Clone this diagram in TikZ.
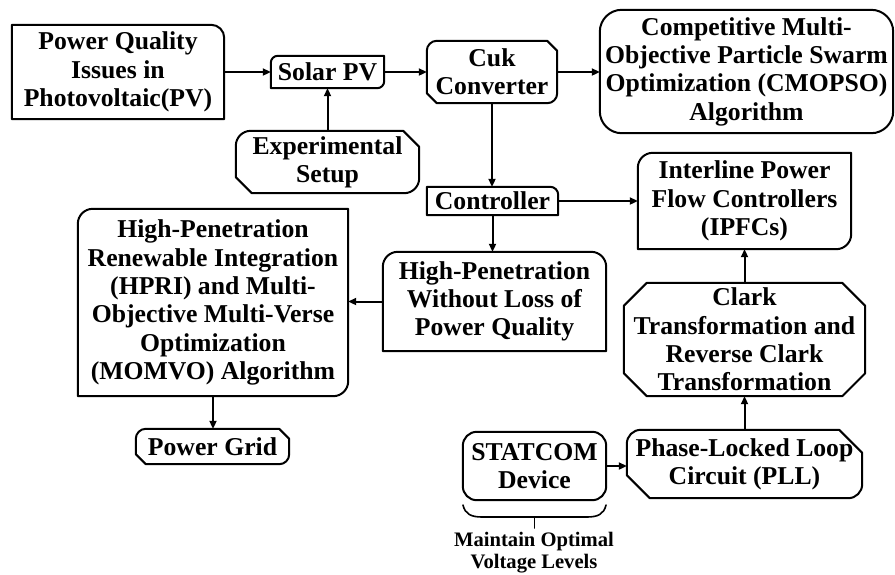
\documentclass[tikz,border=0pt]{standalone}
\usepackage{fontspec}
\setmainfont{Liberation Serif}
\usetikzlibrary{arrows.meta}

\tikzset{
  lbl/.style={inner sep=0pt, align=center, draw=none,
    font=\bfseries\fontsize{25.7}{28.3}\selectfont},
  note/.style={inner sep=0pt, align=center,
    font=\bfseries\fontsize{20.6}{21.7}\selectfont},
  boxline/.style={line width=2pt, line join=round},
  link/.style={line width=2pt, -{Triangle[length=8pt,width=7pt]}},
  bracket/.style={line width=1.6pt, line cap=round},
}

% Corner pieces, walked clockwise from the middle of the left side.
% s = square, r = rounded (radius \br), c = chamfered (cut \bc)
\def\TLs{-- (\bn.north west)}
\def\TLr{-- ([yshift=-\br]\bn.north west) arc[start angle=180,end angle=90,radius=\br]}
\def\TLc{-- ([yshift=-\bc]\bn.north west) -- ([xshift=\bc]\bn.north west)}
\def\TRs{-- (\bn.north east)}
\def\TRr{-- ([xshift=-\br]\bn.north east) arc[start angle=90,end angle=0,radius=\br]}
\def\TRc{-- ([xshift=-\bc]\bn.north east) -- ([yshift=-\bc]\bn.north east)}
\def\BRs{-- (\bn.south east)}
\def\BRr{-- ([yshift=\br]\bn.south east) arc[start angle=0,end angle=-90,radius=\br]}
\def\BRc{-- ([yshift=\bc]\bn.south east) -- ([xshift=-\bc]\bn.south east)}
\def\BLs{-- (\bn.south west)}
\def\BLr{-- ([xshift=\br]\bn.south west) arc[start angle=270,end angle=180,radius=\br]}
\def\BLc{-- ([xshift=\bc]\bn.south west) -- ([yshift=\bc]\bn.south west)}

% #1 node, #2 radius, #3 chamfer, #4..#7 corners TL TR BR BL
\newcommand\boxoutline[7]{%
  \def\bn{#1}\def\br{#2}\def\bc{#3}%
  \draw[boxline] (#1.west) #4 #5 #6 #7 -- cycle;%
}

\begin{document}
\begin{tikzpicture}[x=1pt, y=-1pt]
\useasboundingbox (0,0) rectangle (895,574);

% ---- blocks ----
\node[lbl, minimum width=212pt, minimum height=94pt] (pq) at (118,72)
  {Power Quality\\Issues in\\Photovoltaic(PV)};
\node[lbl, minimum width=113pt, minimum height=32pt] (solar) at (327.5,72)
  {Solar PV};
\node[lbl, minimum width=183pt, minimum height=62pt] (exp) at (327.5,162)
  {Experimental\\Setup};
\node[lbl, minimum width=130pt, minimum height=62pt] (cuk) at (492,72)
  {Cuk\\Converter};
\node[lbl, minimum width=293pt, minimum height=123pt] (cmopso) at (746.5,71.5)
  {Competitive Multi-\\Objective Particle Swarm\\Optimization (CMOPSO)\\Algorithm};
\node[lbl, minimum width=131pt, minimum height=28pt] (ctrl) at (492.5,201)
  {Controller};
\node[lbl, minimum width=213pt, minimum height=96pt] (ipfc) at (744.5,201)
  {Interline Power\\Flow Controllers\\(IPFCs)};
\node[lbl, minimum width=223pt, minimum height=99pt] (hpw) at (494.5,301.5)
  {High-Penetration\\Without Loss of\\Power Quality};
\node[lbl, minimum width=270pt, minimum height=187pt] (hpri) at (213,302.5)
  {High-Penetration\\Renewable Integration\\(HPRI) and Multi-\\Objective Multi-Verse\\Optimization\\(MOMVO) Algorithm};
\node[lbl, minimum width=153pt, minimum height=35pt] (grid) at (212.5,446.5)
  {Power Grid};
\node[lbl, minimum width=241pt, minimum height=113pt] (clark) at (744.5,339.5)
  {Clark\\Transformation and\\Reverse Clark\\Transformation};
\node[lbl, minimum width=143pt, minimum height=68pt] (statcom) at (534.5,466)
  {STATCOM\\Device};
\node[lbl, minimum width=235pt, minimum height=68pt] (pll) at (744.5,464)
  {Phase-Locked Loop\\Circuit (PLL)};

% ---- outlines ----
\boxoutline{pq}{13pt}{0pt}{\TLs}{\TRr}{\BRs}{\BLs}
\boxoutline{solar}{7pt}{0pt}{\TLr}{\TRs}{\BRr}{\BLs}
\boxoutline{exp}{15pt}{16pt}{\TLr}{\TRc}{\BRr}{\BLc}
\boxoutline{cuk}{10pt}{10pt}{\TLr}{\TRc}{\BRr}{\BLc}
\boxoutline{cmopso}{22pt}{0pt}{\TLr}{\TRr}{\BRr}{\BLr}
\boxoutline{ctrl}{8pt}{0pt}{\TLs}{\TRr}{\BRs}{\BLs}
\boxoutline{ipfc}{15pt}{0pt}{\TLr}{\TRs}{\BRr}{\BLs}
\boxoutline{hpw}{15pt}{0pt}{\TLr}{\TRr}{\BRs}{\BLs}
\boxoutline{hpri}{15pt}{0pt}{\TLr}{\TRs}{\BRr}{\BLs}
\boxoutline{grid}{10pt}{10pt}{\TLr}{\TRc}{\BRr}{\BLc}
\boxoutline{clark}{0pt}{23pt}{\TLc}{\TRc}{\BRc}{\BLc}
\boxoutline{statcom}{14pt}{0pt}{\TLr}{\TRr}{\BRr}{\BLr}
\boxoutline{pll}{14pt}{23pt}{\TLr}{\TRc}{\BRr}{\BLc}

% ---- connectors ----
\draw[link] (pq.east) -- (solar.west);
\draw[link] (solar.east) -- (cuk.west);
\draw[link] (exp.north) -- (solar.south);
\draw[link] (cuk.east) -- (cuk.east -| cmopso.west);
\draw[link] (cuk.south) -- (cuk.south |- ctrl.north);
\draw[link] (ctrl.east) -- (ctrl.east -| ipfc.west);
\draw[link] (ctrl.south) -- (ctrl.south |- hpw.north);
\draw[link] (hpw.west) -- (hpw.west -| hpri.east);
\draw[link] (hpri.south) -- (hpri.south |- grid.north);
\draw[link] (clark.north) -- (clark.north |- ipfc.south);
\draw[link] (pll.north) -- (pll.north |- clark.south);
\draw[link] (statcom.east) -- (statcom.east -| pll.west);

% ---- bracket under the STATCOM block ----
\coordinate (bl) at (463,505);
\coordinate (br) at (606,505);
\coordinate (bm) at (534.5,517);
\coordinate (bt) at (534.5,528);
\draw[bracket] (bl) .. controls (465,514) and (471,517) .. (482,517)
  -- (587,517) .. controls (598,517) and (604,514) .. (br);
\draw[bracket] (bm) -- (bt);
\node[note, anchor=north] (keep) at (534,532)
  {Maintain Optimal\\Voltage Levels};
\end{tikzpicture}
\end{document}
